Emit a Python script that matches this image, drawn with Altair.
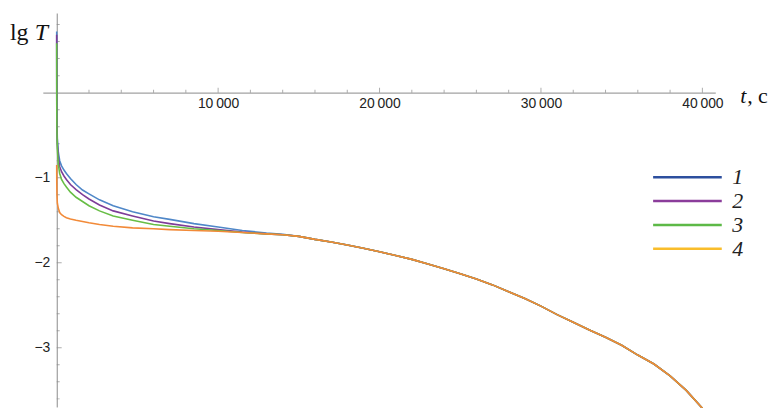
import altair as alt
import pandas as pd

# ---- data ----
series_names = ["1", "2", "3", "4"]
t_vals = [0, 5, 15, 40, 100, 185, 300, 450, 600, 850, 1200, 1600, 2000, 2650,
          3500, 4700, 6000, 7000, 8500, 10000, 11500, 13000, 14000, 15000,
          16000, 17000, 18000, 19000, 20000, 21000, 22000, 23000, 24000, 25000,
          26000, 27000, 28000, 29000, 30000, 31000, 32000, 33000, 34000, 35000,
          36000, 37000, 38000, 39000, 40000]
tail = [-1.725, -1.755, -1.79, -1.83, -1.87, -1.915, -1.96, -2.015, -2.07, -2.13,
        -2.19, -2.26, -2.34, -2.42, -2.51, -2.61, -2.70, -2.79, -2.875, -2.97,
        -3.085, -3.19, -3.33, -3.50, -3.71]
s1 = [0.72, -0.10, -0.35, -0.55, -0.70, -0.80, -0.86, -0.91, -0.95, -1.01, -1.08,
      -1.145, -1.19, -1.26, -1.33, -1.40, -1.46, -1.49, -1.54, -1.58, -1.62, -1.65,
      -1.665, -1.69] + tail
s2 = [0.68, -0.15, -0.40, -0.60, -0.76, -0.87, -0.93, -0.98, -1.02, -1.08, -1.14,
      -1.20, -1.25, -1.32, -1.39, -1.45, -1.51, -1.54, -1.58, -1.61, -1.64, -1.66,
      -1.67, -1.69] + tail
s3 = [0.58, -0.20, -0.45, -0.66, -0.84, -0.95, -1.02, -1.07, -1.11, -1.17, -1.23,
      -1.28, -1.33, -1.39, -1.45, -1.50, -1.55, -1.57, -1.60, -1.62, -1.645, -1.66,
      -1.67, -1.69] + tail
s4 = [-0.85, -1.05, -1.20, -1.30, -1.36, -1.41, -1.435, -1.455, -1.47, -1.485, -1.50,
      -1.515, -1.53, -1.55, -1.57, -1.59, -1.60, -1.61, -1.62, -1.63, -1.645, -1.66,
      -1.67, -1.69] + tail

x_major = [10000, 20000, 30000, 40000]
x_minor = [2000, 4000, 6000, 8000, 12000, 14000, 16000, 18000, 22000, 24000, 26000,
           28000, 32000, 34000, 36000, 38000]
y_major = [-1, -2, -3]
y_minor = [0.8, 0.6, 0.4, 0.2, -0.2, -0.4, -0.6, -0.8, -1.2, -1.4, -1.6, -1.8,
           -2.2, -2.4, -2.6, -2.8, -3.2, -3.4, -3.6]

curve_colors = ["#4f87c8", "#7d3c98", "#67bd45", "#f28a38"]
legend_colors = ["#2d4f9e", "#8b3d9b", "#5db947", "#f9bd2b"]

# ---- tables ----
rows = []
for name, vals in zip(series_names, [s1, s2, s3, s4]):
    for t, v in zip(t_vals, vals):
        rows.append({"t": t, "v": v, "s": name})
df = pd.DataFrame(rows)
df_leg = pd.DataFrame({"t": [40000] * 4, "v": [s1[-1]] * 4, "s": series_names})
df_xmaj = pd.DataFrame({"t": x_major, "v": [0] * len(x_major)})
df_xmin = pd.DataFrame({"t": x_minor, "v": [0] * len(x_minor)})
df_ymaj = pd.DataFrame({"t": [0] * len(y_major), "v": y_major})
df_ymin = pd.DataFrame({"t": [0] * len(y_minor), "v": y_minor})
df_one = pd.DataFrame({"a": [0]})

W, H = 676, 396
axis_gray = "#8a8a8a"

x_enc = alt.X("t:Q",
              scale=alt.Scale(domain=[-860, 40800], nice=False, zero=False),
              axis=alt.Axis(values=x_major, orient="bottom", offset=-316,
                            labelExpr="replace(format(datum.value, ','), ',', '\u2009')",
                            ticks=False, tickSize=0, grid=False, title=None,
                            domainColor=axis_gray, domainWidth=1,
                            labelFont="Liberation Sans", labelFontSize=14,
                            labelColor="#222222", labelPadding=4, labelFlush=False))
y_enc = alt.Y("v:Q",
              scale=alt.Scale(domain=[-3.695, 0.936], nice=False, zero=False),
              axis=alt.Axis(values=y_major, orient="left", offset=-14,
                            ticks=False, tickSize=0, grid=False, title=None,
                            domainColor=axis_gray, domainWidth=1,
                            labelFont="Liberation Sans", labelFontSize=14,
                            labelColor="#222222", labelPadding=7))

curves = alt.Chart(df).mark_line(strokeWidth=1.6).encode(
    x=x_enc, y=y_enc,
    color=alt.Color("s:N", scale=alt.Scale(domain=series_names, range=curve_colors),
                    legend=None),
)

legend_layer = alt.Chart(df_leg).mark_line(strokeWidth=2.5).encode(
    x=x_enc, y=y_enc,
    color=alt.Color("s:N", scale=alt.Scale(domain=series_names, range=legend_colors),
                    legend=alt.Legend(title=None, orient="none", legendX=635, legendY=152,
                                      symbolType="M-3,0H3", symbolSize=529,
                                      symbolStrokeWidth=2.5,
                                      labelFont="Liberation Serif", labelFontSize=22,
                                      labelFontStyle="italic", labelColor="#222222",
                                      labelOffset=32, rowPadding=-2.3, padding=0)),
)

xmaj = alt.Chart(df_xmaj).mark_tick(orient="vertical", size=5, thickness=1,
                                    color=axis_gray, yOffset=-2.5).encode(x=x_enc, y=y_enc)
xmin = alt.Chart(df_xmin).mark_tick(orient="vertical", size=3, thickness=1,
                                    color=axis_gray, yOffset=-1.5).encode(x=x_enc, y=y_enc)
ymaj = alt.Chart(df_ymaj).mark_tick(orient="horizontal", size=5, thickness=1,
                                    color=axis_gray, xOffset=2.5).encode(x=x_enc, y=y_enc)
ymin = alt.Chart(df_ymin).mark_tick(orient="horizontal", size=3, thickness=1,
                                    color=axis_gray, xOffset=1.5).encode(x=x_enc, y=y_enc)

serif = "Liberation Serif"
t_lg = alt.Chart(df_one).mark_text(text="lg", font=serif, fontSize=24, align="left",
                                   baseline="alphabetic", color="#111111").encode(
    x=alt.value(-33), y=alt.value(27))
t_T = alt.Chart(df_one).mark_text(text="T", font=serif, fontSize=24, fontStyle="italic",
                                  align="left", baseline="alphabetic", color="#111111").encode(
    x=alt.value(-8), y=alt.value(27))
t_t = alt.Chart(df_one).mark_text(text="t", font=serif, fontSize=22, fontStyle="italic",
                                  align="left", baseline="alphabetic", color="#111111").encode(
    x=alt.value(701), y=alt.value(90))
t_c = alt.Chart(df_one).mark_text(text=", c", font=serif, fontSize=22, align="left",
                                  baseline="alphabetic", color="#111111").encode(
    x=alt.value(708), y=alt.value(90))

chart = alt.layer(
    xmin, xmaj, ymin, ymaj, curves, legend_layer, t_lg, t_T, t_t, t_c
).resolve_scale(color="independent").properties(
    width=W, height=H,
    background="white",
    autosize=alt.AutoSizeParams(type="none"),
    padding={"left": 35, "top": 4, "right": 56, "bottom": 0},
).configure_view(stroke="transparent", strokeWidth=0)

chart.save("out.html", embed_options={"renderer": "svg", "actions": False})
